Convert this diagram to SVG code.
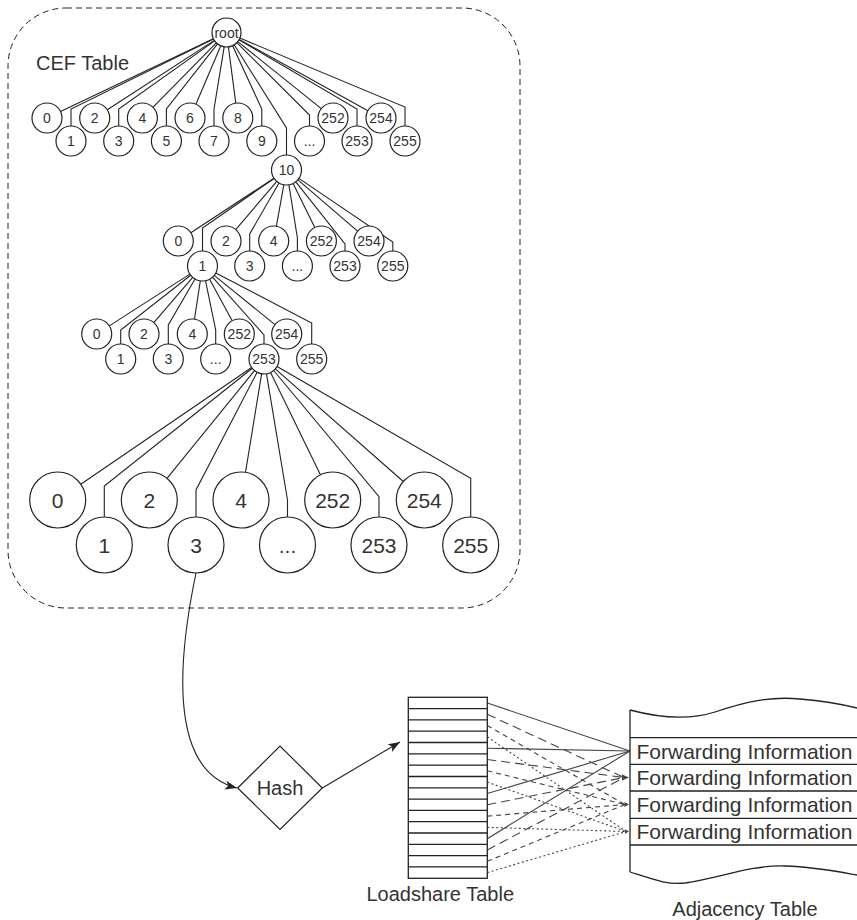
<svg xmlns="http://www.w3.org/2000/svg" width="857" height="920" viewBox="0 0 857 920">
<style>
.c{fill:#fff;stroke:#222;stroke-width:1.2}
.t{font-family:"Liberation Sans",Arial,sans-serif;font-size:14px;fill:#333;text-anchor:middle}
.tb{font-size:21px}
.lbl{font-family:"Liberation Sans",Arial,sans-serif;font-size:20px;fill:#333}
.e{fill:none;stroke:#222;stroke-width:1.1}
.ls{fill:none;stroke:#444;stroke-width:1.1}
.ld{fill:none;stroke:#444;stroke-width:1.1;stroke-dasharray:9 5}
.lm{fill:none;stroke:#444;stroke-width:1.1;stroke-dasharray:5 4}
.lt{fill:none;stroke:#444;stroke-width:1.1;stroke-dasharray:2 2.5}
.tbl{fill:none;stroke:#222;stroke-width:1.3}
</style>
<defs>
<marker id="ah" markerWidth="13" markerHeight="10" refX="12" refY="5" orient="auto" markerUnits="userSpaceOnUse">
<path d="M0,0.5 L12,5 L0,9.5 L3,5 Z" fill="#222"/>
</marker>
</defs>

<g id="cef-table-frame">
<rect x="8" y="8" width="512" height="600" rx="58" ry="58" fill="none" stroke="#222" stroke-width="1" stroke-dasharray="6 4"/>
<text class="lbl" x="36" y="70">CEF Table</text>
</g>

<g id="connectors">
<g id="edges-level1">
<path class="e" d="M213.4,38.7 L60.5,111.5"/>
<path class="e" d="M213.5,38.9 L71,109 V126"/>
<path class="e" d="M214.3,40.4 L107.3,109.8"/>
<path class="e" d="M214.7,40.9 L118.7,109 V126"/>
<path class="e" d="M216.3,42.8 L152.9,107.3"/>
<path class="e" d="M217.5,43.9 L166.4,109 V126"/>
<path class="e" d="M220.8,45.8 L195.9,104.2"/>
<path class="e" d="M224.2,46.8 L214,109 V126"/>
<path class="e" d="M228.4,46.9 L235.8,103.1"/>
<path class="e" d="M232.6,45.7 L261.8,109 V126"/>
<path class="e" d="M234.2,44.8 L286.5,128 V155"/>
<path class="e" d="M236.8,42.7 L309.5,115 V126"/>
<path class="e" d="M237.8,41.6 L321.3,108.6"/>
<path class="e" d="M239,39.8 L357,109 V126"/>
<path class="e" d="M239.2,39.5 L367.9,110.7"/>
<path class="e" d="M239.9,38.1 L405,107 V126"/>
</g>
<g id="edges-level2">
<path class="e" d="M274,178.2 L190.8,232.8"/>
<path class="e" d="M274.1,178.5 L202.5,228 V251"/>
<path class="e" d="M276.8,181.4 L235.7,229.6"/>
<path class="e" d="M279,183 L249.7,234 V251"/>
<path class="e" d="M283.8,184.8 L276.4,226.2"/>
<path class="e" d="M288.9,184.8 L297.4,238 V251"/>
<path class="e" d="M293.1,183.5 L314.8,227.5"/>
<path class="e" d="M295.8,181.8 L345,244 V251"/>
<path class="e" d="M297.9,179.8 L357.6,231.2"/>
<path class="e" d="M298.9,178.4 L392.8,242 V251"/>
</g>
<g id="edges-level3">
<path class="e" d="M189.9,274.1 L109.3,325.9"/>
<path class="e" d="M190.7,275.2 L120.7,330 V344"/>
<path class="e" d="M192.7,277.4 L153.8,322.6"/>
<path class="e" d="M195,279 L168.3,325 V344"/>
<path class="e" d="M200.3,280.8 L194.5,319.2"/>
<path class="e" d="M205.5,280.7 L215.7,330 V344"/>
<path class="e" d="M209.6,279.2 L232.2,320.8"/>
<path class="e" d="M212.5,277.2 L264,335 V344"/>
<path class="e" d="M214.2,275.4 L275,324.6"/>
<path class="e" d="M215.8,272.9 L311.7,323 V344"/>
</g>
<g id="edges-level4">
<path class="e" d="M251.6,367.5 L80.8,484.2"/>
<path class="e" d="M252.3,368.3 L104.3,486 V517"/>
<path class="e" d="M254.5,370.6 L167,478.3"/>
<path class="e" d="M257.1,372.3 L196,490 V517"/>
<path class="e" d="M261.6,373.8 L245.5,472.4"/>
<path class="e" d="M266.5,373.8 L287.5,500 V517"/>
<path class="e" d="M270.6,372.5 L320.4,474.8"/>
<path class="e" d="M273.6,370.5 L379,496.7 V517"/>
<path class="e" d="M275.3,368.9 L403.3,481.5"/>
<path class="e" d="M277,366.5 L470.7,478.3 V517"/>
</g>
<g id="flow-arrows">
<path class="e" d="M196,573 C180,650 165,770 237,788" marker-end="url(#ah)"/>
<path class="e" d="M322.3,788 L400,742" marker-end="url(#ah)"/>
</g>
<g id="loadshare-links">
<path class="ls" d="M487.3,703 L630,751"/>
<path class="ls" d="M487.3,748.2 L630,751"/>
<path class="ls" d="M487.3,793.5 L630,751"/>
<path class="ls" d="M487.3,838.7 L630,751"/>
<path class="ld" d="M487.3,714.3 L624,777.5"/>
<path class="ld" d="M487.3,759.5 L624,777.5"/>
<path class="ld" d="M487.3,804.8 L624,777.5"/>
<path class="ld" d="M487.3,850 L624,777.5"/>
<path class="lm" d="M487.3,725.6 L625,804.5"/>
<path class="lm" d="M487.3,770.8 L625,804.5"/>
<path class="lm" d="M487.3,816.1 L625,804.5"/>
<path class="lm" d="M487.3,861.3 L625,804.5"/>
<path class="lt" d="M487.3,736.9 L626,831.5"/>
<path class="lt" d="M487.3,782.1 L626,831.5"/>
<path class="lt" d="M487.3,827.4 L626,831.5"/>
<path class="lt" d="M487.3,872.6 L626,831.5"/>
<path d="M622,774.5 L629,777.5 L622,780.5 Z" fill="#444"/>
<path d="M624.5,802 L629,804.5 L624.5,807 Z" fill="#444"/>
<path d="M625,829.3 L629,831.5 L625,833.7 Z" fill="#444"/>
</g>
</g>

<g id="n-root"><circle class="c" cx="226.5" cy="32.5" r="14.5"/><text class="t" x="226.5" y="37.5">root</text></g>

<g id="n1-0"><circle class="c" cx="47" cy="118" r="15"/><text class="t" x="47" y="123">0</text></g>
<g id="n1-2"><circle class="c" cx="94.7" cy="118" r="15"/><text class="t" x="94.7" y="123">2</text></g>
<g id="n1-4"><circle class="c" cx="142.4" cy="118" r="15"/><text class="t" x="142.4" y="123">4</text></g>
<g id="n1-6"><circle class="c" cx="190" cy="118" r="15"/><text class="t" x="190" y="123">6</text></g>
<g id="n1-8"><circle class="c" cx="237.8" cy="118" r="15"/><text class="t" x="237.8" y="123">8</text></g>
<g id="n1-252"><circle class="c" cx="333" cy="118" r="15"/><text class="t" x="333" y="123">252</text></g>
<g id="n1-254"><circle class="c" cx="381" cy="118" r="15"/><text class="t" x="381" y="123">254</text></g>
<g id="n1-1"><circle class="c" cx="71" cy="141" r="15"/><text class="t" x="71" y="146">1</text></g>
<g id="n1-3"><circle class="c" cx="118.7" cy="141" r="15"/><text class="t" x="118.7" y="146">3</text></g>
<g id="n1-5"><circle class="c" cx="166.4" cy="141" r="15"/><text class="t" x="166.4" y="146">5</text></g>
<g id="n1-7"><circle class="c" cx="214" cy="141" r="15"/><text class="t" x="214" y="146">7</text></g>
<g id="n1-9"><circle class="c" cx="261.8" cy="141" r="15"/><text class="t" x="261.8" y="146">9</text></g>
<g id="n1-dots"><circle class="c" cx="309.5" cy="141" r="15"/><text class="t" x="309.5" y="146">...</text></g>
<g id="n1-253"><circle class="c" cx="357" cy="141" r="15"/><text class="t" x="357" y="146">253</text></g>
<g id="n1-255"><circle class="c" cx="405" cy="141" r="15"/><text class="t" x="405" y="146">255</text></g>
<g id="n1-10"><circle class="c" cx="286.5" cy="170" r="15"/><text class="t" x="286.5" y="175">10</text></g>

<g id="n2-0"><circle class="c" cx="178.3" cy="241" r="15"/><text class="t" x="178.3" y="246">0</text></g>
<g id="n2-2"><circle class="c" cx="226" cy="241" r="15"/><text class="t" x="226" y="246">2</text></g>
<g id="n2-4"><circle class="c" cx="273.7" cy="241" r="15"/><text class="t" x="273.7" y="246">4</text></g>
<g id="n2-252"><circle class="c" cx="321.4" cy="241" r="15"/><text class="t" x="321.4" y="246">252</text></g>
<g id="n2-254"><circle class="c" cx="369" cy="241" r="15"/><text class="t" x="369" y="246">254</text></g>
<g id="n2-1"><circle class="c" cx="202.5" cy="266" r="15"/><text class="t" x="202.5" y="271">1</text></g>
<g id="n2-3"><circle class="c" cx="249.7" cy="266" r="15"/><text class="t" x="249.7" y="271">3</text></g>
<g id="n2-dots"><circle class="c" cx="297.4" cy="266" r="15"/><text class="t" x="297.4" y="271">...</text></g>
<g id="n2-253"><circle class="c" cx="345" cy="266" r="15"/><text class="t" x="345" y="271">253</text></g>
<g id="n2-255"><circle class="c" cx="392.8" cy="266" r="15"/><text class="t" x="392.8" y="271">255</text></g>

<g id="n3-0"><circle class="c" cx="96.7" cy="334" r="15"/><text class="t" x="96.7" y="339">0</text></g>
<g id="n3-2"><circle class="c" cx="144" cy="334" r="15"/><text class="t" x="144" y="339">2</text></g>
<g id="n3-4"><circle class="c" cx="192.3" cy="334" r="15"/><text class="t" x="192.3" y="339">4</text></g>
<g id="n3-252"><circle class="c" cx="239.3" cy="334" r="15"/><text class="t" x="239.3" y="339">252</text></g>
<g id="n3-254"><circle class="c" cx="286.7" cy="334" r="15"/><text class="t" x="286.7" y="339">254</text></g>
<g id="n3-1"><circle class="c" cx="120.7" cy="359" r="15"/><text class="t" x="120.7" y="364">1</text></g>
<g id="n3-3"><circle class="c" cx="168.3" cy="359" r="15"/><text class="t" x="168.3" y="364">3</text></g>
<g id="n3-dots"><circle class="c" cx="215.7" cy="359" r="15"/><text class="t" x="215.7" y="364">...</text></g>
<g id="n3-253"><circle class="c" cx="264" cy="359" r="15"/><text class="t" x="264" y="364">253</text></g>
<g id="n3-255"><circle class="c" cx="311.7" cy="359" r="15"/><text class="t" x="311.7" y="364">255</text></g>

<g id="n4-0"><circle class="c" cx="57.7" cy="500" r="28"/><text class="t tb" x="57.7" y="507.5">0</text></g>
<g id="n4-2"><circle class="c" cx="149.3" cy="500" r="28"/><text class="t tb" x="149.3" y="507.5">2</text></g>
<g id="n4-4"><circle class="c" cx="241" cy="500" r="28"/><text class="t tb" x="241" y="507.5">4</text></g>
<g id="n4-252"><circle class="c" cx="332.7" cy="500" r="28"/><text class="t tb" x="332.7" y="507.5">252</text></g>
<g id="n4-254"><circle class="c" cx="424.3" cy="500" r="28"/><text class="t tb" x="424.3" y="507.5">254</text></g>
<g id="n4-1"><circle class="c" cx="104.3" cy="545" r="28"/><text class="t tb" x="104.3" y="552.5">1</text></g>
<g id="n4-3"><circle class="c" cx="196" cy="545" r="28"/><text class="t tb" x="196" y="552.5">3</text></g>
<g id="n4-dots"><circle class="c" cx="287.5" cy="545" r="28"/><text class="t tb" x="287.5" y="552.5">...</text></g>
<g id="n4-253"><circle class="c" cx="379" cy="545" r="28"/><text class="t tb" x="379" y="552.5">253</text></g>
<g id="n4-255"><circle class="c" cx="470.7" cy="545" r="28"/><text class="t tb" x="470.7" y="552.5">255</text></g>

<g id="hash">
<path d="M237.7,788 L280,746 L322.3,788 L280,829.5 Z" fill="#fff" stroke="#222" stroke-width="1.2"/>
<text class="lbl" x="280" y="795" text-anchor="middle">Hash</text>
</g>

<g id="loadshare-table">
<rect class="tbl" x="408.3" y="697.3" width="79" height="181" fill="#fff"/>
<path class="tbl" d="M408.3,708.6H487.3M408.3,719.9H487.3M408.3,731.2H487.3M408.3,742.5H487.3M408.3,753.9H487.3M408.3,765.2H487.3M408.3,776.5H487.3M408.3,787.8H487.3M408.3,799.1H487.3M408.3,810.4H487.3M408.3,821.7H487.3M408.3,833H487.3M408.3,844.3H487.3M408.3,855.6H487.3M408.3,866.9H487.3"/>
<text class="lbl" x="514" y="901" text-anchor="end">Loadshare Table</text>
</g>

<g id="adjacency-table">
<path class="tbl" d="M630,710 C660,718 690,720 715,712 C745,702 770,696 800,699 C825,701 845,705 857,708"/>
<path class="tbl" d="M630,710 V872"/>
<path class="tbl" d="M630,872 C655,880 668,885 685,883 C720,878 750,865 785,866 C815,867 840,872 857,875"/>
<path class="tbl" d="M630,737.7H857M630,764.3H857M630,791H857M630,818.3H857M630,845H857"/>
<text class="lbl" x="636.5" y="758.5" style="font-size:21px">Forwarding Information</text>
<text class="lbl" x="636.5" y="785" style="font-size:21px">Forwarding Information</text>
<text class="lbl" x="636.5" y="812" style="font-size:21px">Forwarding Information</text>
<text class="lbl" x="636.5" y="839" style="font-size:21px">Forwarding Information</text>
<text class="lbl" x="745" y="916" text-anchor="middle">Adjacency Table</text>
</g>
</svg>
